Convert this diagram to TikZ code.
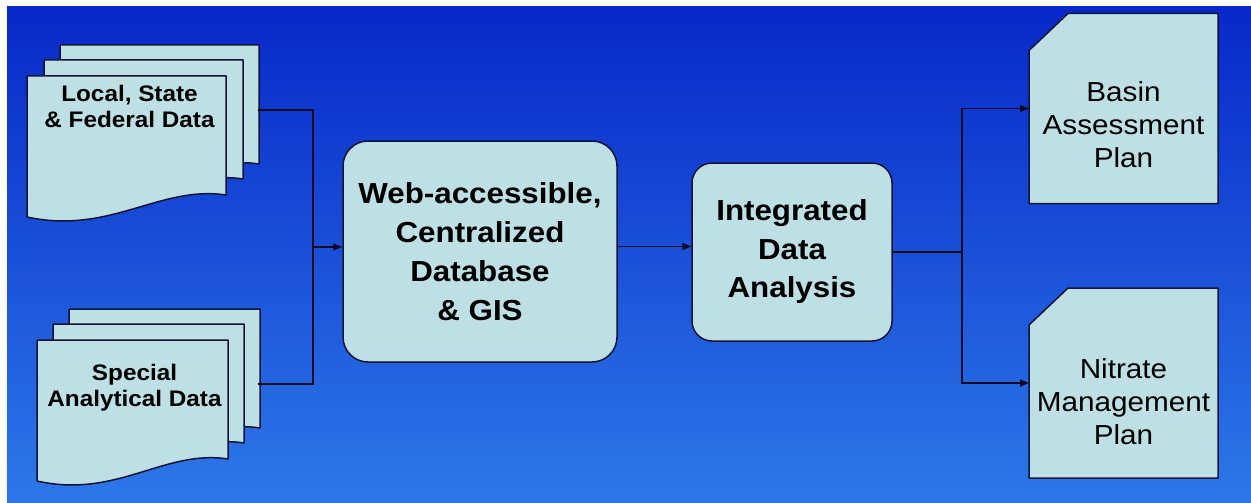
\documentclass[tikz,border=0pt]{standalone}
\usepackage{fontspec}
\newfontfamily\lab{Liberation Sans}[FakeStretch=1.08]
\usetikzlibrary{arrows.meta}
\pgfdeclarelayer{back}
\pgfdeclarelayer{shapes}
\pgfsetlayers{back,shapes,main}
\definecolor{bgtop}{RGB}{8,40,200}
\definecolor{bgbot}{RGB}{45,120,232}
\definecolor{boxfill}{RGB}{190,224,228}
\definecolor{edgecol}{RGB}{15,20,55}
\definecolor{wirecol}{RGB}{10,10,35}
\tikzset{
  page/.style={fill=boxfill, draw=edgecol, line width=1.5pt, line join=round},
  docpage/.pic={\path[page] (0,0) -- (199,0) -- (199,119) .. controls (133,109) and (83,159) .. (0,141) -- cycle;},
  doctext/.style={font=\lab\bfseries\fontsize{22.5}{26}\selectfont, align=center, inner sep=0pt, text=black},
  procbox/.style={rounded corners=25pt, fill=boxfill, draw=edgecol, line width=1.5pt, align=center, inner sep=0pt, text=black},
  planbox/.style={rectangle, minimum width=189pt, minimum height=190pt, inner sep=0pt, outer sep=0pt},
  plantext/.style={font=\lab\fontsize{27.5}{33}\selectfont, align=center, inner sep=0pt, text=black},
  wire/.style={draw=wirecol, line width=1.5pt},
  arrowwire/.style={wire, -{Triangle[length=9pt,width=7pt]}},
}
\begin{document}
\begin{tikzpicture}[x=1pt,y=-1pt]
\begin{pgfonlayer}{back}
\useasboundingbox (0,0) rectangle (1251,503);
\fill[white] (0,0) rectangle (1251,503);
\shade[top color=bgtop, bottom color=bgbot] (7,7) rectangle (1251,503);
\end{pgfonlayer}

% document stacks
\pic at (60,45) {docpage};
\pic at (44,60) {docpage};
\pic at (27,76) {docpage};
\pic[xscale=0.96] at (69,309) {docpage};
\pic[xscale=0.96] at (53,324) {docpage};
\pic[xscale=0.96] at (37,340) {docpage};

\node[doctext] (lsf) at (129.5,106.5) {Local, State\\\& Federal Data};
\node[doctext] (sad) at (134.5,388) {Special\\Analytical Data};

% process boxes
\node[procbox, minimum width=274pt, minimum height=221pt,
      font=\lab\bfseries\fontsize{29}{39}\selectfont] (db) at (480,251.5)
      {Web-accessible,\\Centralized\\Database\\\& GIS};
\node[procbox, rounded corners=20pt, minimum width=200pt, minimum height=178pt,
      font=\lab\bfseries\fontsize{29}{38.5}\selectfont] (ida) at (792,252)
      {Integrated\\Data\\Analysis};

% plans
\node[planbox, label={[plantext, yshift=-16.5pt]center:{Basin\\Assessment\\Plan}}] (bap) at (1123.5,108.5) {};
\node[planbox, label={[plantext, yshift=-18.5pt]center:{Nitrate\\Management\\Plan}}] (nmp) at (1123.5,383) {};
\begin{pgfonlayer}{shapes}
\foreach \p in {bap,nmp}
  \path[page] ([yshift=-37pt]\p.north west) -- ([xshift=39pt]\p.north west)
     -- (\p.north east) -- (\p.south east) -- (\p.south west) -- cycle;
\end{pgfonlayer}

% connectors
\coordinate (lsfout) at (258,110);
\coordinate (sadout) at (258,384);
\coordinate (join1) at (313,247);
\coordinate (join2) at (962,252);

\draw[wire] (lsfout) -| (join1) |- (sadout);
\draw[arrowwire] (join1) -- (join1 -| db.west);
\draw[arrowwire] ([yshift=5pt]db.east) -- ([yshift=5pt]db.east -| ida.west);
\draw[wire] (ida.east) -- (join2);
\draw[arrowwire] (join2) |- (bap.west);
\draw[arrowwire] (join2) |- (nmp.west);
\end{tikzpicture}
\end{document}
